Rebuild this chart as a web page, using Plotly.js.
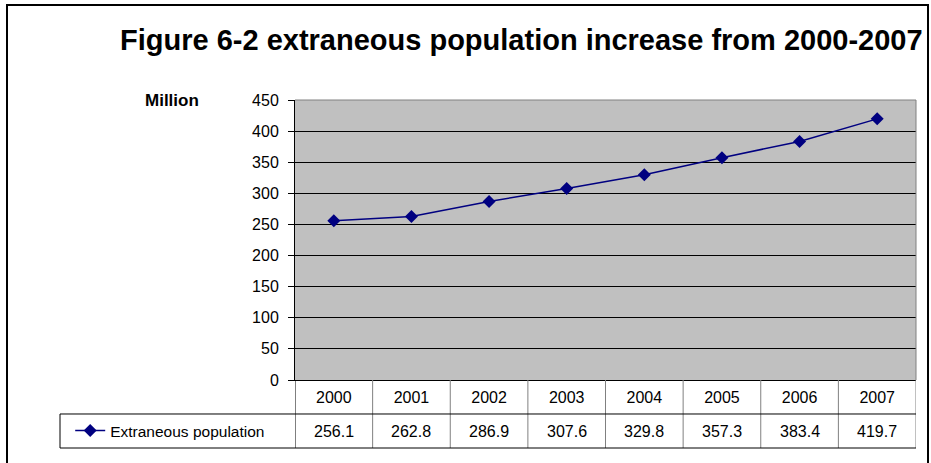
<!DOCTYPE html>
<html>
<head>
<meta charset="utf-8">
<script src="https://cdn.plot.ly/plotly-3.0.1.min.js"></script>
<style>
  html, body { margin: 0; padding: 0; background: #fff; overflow: hidden; }
  #clip { position: absolute; left: 0; top: 0; width: 926px; height: 463px; overflow: hidden; }
  #chart { width: 931px; height: 463px; }
  #frame { position: absolute; left: 6px; top: 4px; width: 919px; height: 480px;
           border: 2px solid #000; pointer-events: none; box-sizing: content-box; }
</style>
</head>
<body>
<div id="clip"><div id="chart"></div></div>
<div id="frame"></div>
<script>
// Extraneous population, millions, 2000-2007
const years = ['2000', '2001', '2002', '2003', '2004', '2005', '2006', '2007'];
const population = [256.1, 262.8, 286.9, 307.6, 329.8, 357.3, 383.4, 419.7];
const seriesName = 'Extraneous population';
const titleText = 'Figure 6-2 extraneous population increase from 2000-2007';
const unitLabel = 'Million';

const FONT = 'Arial, "Liberation Sans", sans-serif';
const NAVY = '#000080';

// data table rows below the plot (paper y)
const rowTop = 0, rowMid = -0.1214, rowBot = -0.2429;
const valueRowY = (rowMid + rowBot) / 2;
const legendLeft = -0.3784; // left edge of legend cell

const shapes = [];
// plot area frame (grey top/right)
shapes.push({type: 'line', xref: 'paper', yref: 'paper', x0: 0, x1: 1, y0: 1, y1: 1,
  line: {color: '#808080', width: 1}, layer: 'above'});
shapes.push({type: 'line', xref: 'paper', yref: 'paper', x0: 1, x1: 1, y0: 0, y1: 1,
  line: {color: '#808080', width: 1}, layer: 'above'});
// table column separators
for (let i = 0; i <= years.length; i++) {
  const outer = (i === 0);
  shapes.push({type: 'line', xref: 'x', yref: 'paper', x0: i - 0.5, x1: i - 0.5,
    y0: rowTop, y1: rowBot, line: {color: outer ? '#000' : '#808080', width: 1}});
}
// table horizontal rules
shapes.push({type: 'line', xref: 'paper', yref: 'paper', x0: legendLeft, x1: 1,
  y0: rowMid, y1: rowMid, line: {color: '#000', width: 1}});
shapes.push({type: 'line', xref: 'paper', yref: 'paper', x0: legendLeft, x1: 1,
  y0: rowBot, y1: rowBot, line: {color: '#000', width: 1}});
shapes.push({type: 'line', xref: 'paper', yref: 'paper', x0: legendLeft, x1: legendLeft,
  y0: rowMid, y1: rowBot, line: {color: '#000', width: 1}});

// value cells
const annotations = population.map((v, i) => ({
  xref: 'x', yref: 'paper', x: i, y: valueRowY, text: v.toFixed(1),
  showarrow: false, xanchor: 'center', yanchor: 'middle',
  font: {family: FONT, size: 16, color: '#000'}
}));
annotations.push({
  xref: 'paper', yref: 'paper', x: -0.2448, y: 1, text: '<b>' + unitLabel + '</b>',
  showarrow: false, xanchor: 'left', yanchor: 'middle',
  font: {family: FONT, size: 17, color: '#000'}
});

const trace = {
  type: 'scatter', mode: 'lines+markers', name: seriesName,
  x: years.map((_, i) => i), y: population,
  line: {color: NAVY, width: 1.5},
  marker: {symbol: 'diamond', size: 10, color: NAVY, line: {width: 0}}
};

const layout = {
  width: 931, height: 463,
  margin: {l: 295, r: 15, t: 100, b: 83},
  paper_bgcolor: '#fff', plot_bgcolor: '#C0C0C0',
  title: {text: '<b>' + titleText + '</b>', xref: 'container', yref: 'container',
    x: 120 / 931, xanchor: 'left', y: 1 - 40 / 463, yanchor: 'middle',
    font: {family: FONT, size: 29, color: '#000'}},
  xaxis: {range: [-0.5, years.length - 0.5], tickvals: years.map((_, i) => i), ticktext: years,
    showgrid: false, zeroline: false, showline: true, linecolor: '#000', linewidth: 1,
    ticks: '', ticklabelstandoff: 3, tickfont: {family: FONT, size: 16, color: '#000'},
    fixedrange: true},
  yaxis: {range: [0, 450], dtick: 50, tick0: 0, showgrid: true, gridcolor: '#000', gridwidth: 1,
    zeroline: false, showline: true, linecolor: '#000', linewidth: 1,
    ticks: 'outside', ticklen: 6, tickcolor: '#000', tickwidth: 1, ticklabelstandoff: 6,
    tickfont: {family: FONT, size: 16, color: '#000'}, fixedrange: true},
  showlegend: true,
  legend: {x: -0.362, xanchor: 'left', y: valueRowY, yanchor: 'middle',
    bgcolor: 'rgba(0,0,0,0)', font: {family: FONT, size: 15.5, color: '#000'}},
  shapes: shapes, annotations: annotations
};

Plotly.newPlot('chart', [trace], layout, {displayModeBar: false, staticPlot: true});
</script>
</body>
</html>
